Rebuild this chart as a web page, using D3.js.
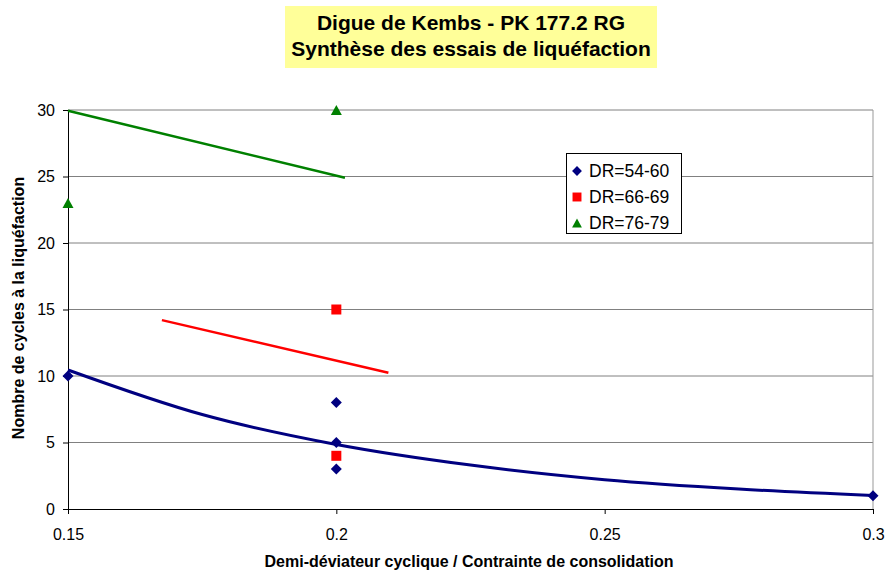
<!DOCTYPE html>
<html>
<head>
<meta charset="utf-8">
<script src="https://cdn.jsdelivr.net/npm/d3@7/dist/d3.min.js"></script>
<style>
  body { margin: 0; background: #fff; }
  #chart { width: 888px; height: 575px; }
  text { font-family: Arial, "Liberation Sans", sans-serif; fill: #000; }
</style>
</head>
<body>
<div id="chart"></div>
<script>
//Données
const titleLines = ['Digue de Kembs - PK 177.2 RG', 'Synthèse des essais de liquéfaction'];
const xLabel = 'Demi-déviateur cyclique / Contrainte de consolidation';
const yLabel = 'Nombre de cycles à la liquéfaction';

const xTicks = [0.15, 0.2, 0.25, 0.3];
const yTicks = [0, 5, 10, 15, 20, 25, 30];

const seriesNames = ['DR=54-60', 'DR=66-69', 'DR=76-79'];
const seriesColors = ['#000080', '#FF0000', '#008000'];

//Points mesurés
const dr54X = [0.15, 0.2, 0.2, 0.2, 0.3];
const dr54Y = [10, 8, 5, 3, 1];
const dr66X = [0.2, 0.2];
const dr66Y = [15, 4];
const dr76X = [0.15, 0.2];
const dr76Y = [23, 30];

//Courbes de tendance
const trend54X = [0.15, 0.175, 0.2, 0.225, 0.25, 0.275, 0.3];
const trend54Y = [10.45, 7.1, 4.85, 3.3, 2.2, 1.5, 1.02];
const trend66X = [0.1675, 0.2097];
const trend66Y = [14.2, 10.25];
const trend76X = [0.15, 0.2016];
const trend76Y = [29.95, 24.9];

//Dimensions
let margin = {top: 110, right: 15, bottom: 66, left: 68},
    width = 888 - margin.left - margin.right,
    height = 575 - margin.top - margin.bottom;

let svg = d3.select('#chart')
    .append('svg')
        .attr('width', 888)
        .attr('height', 575);

//Titre
svg.append('rect')
    .attr('x', 285).attr('y', 6)
    .attr('width', 372).attr('height', 62)
    .attr('fill', '#FFFF99');

svg.append('g')
    .selectAll('text')
    .data(titleLines)
    .enter()
    .append('text')
    .attr('x', 471)
    .attr('y', function(d, i) { return 30 + i * 26; })
    .attr('text-anchor', 'middle')
    .style('font-size', '21px')
    .style('font-weight', 'bold')
    .text(function(d) { return d; });

let g = svg.append('g')
    .attr('transform', 'translate(' + margin.left + ',' + margin.top + ')');

let x = d3.scaleLinear()
    .domain([0.15, 0.3])
    .range([0, width]);

let y = d3.scaleLinear()
    .domain([0, 30])
    .range([height, 0]);

//Grille
g.append('g')
    .selectAll('line')
    .data(yTicks.filter(function(d) { return d > 0; }))
    .enter()
    .append('line')
    .attr('x1', 0).attr('x2', width)
    .attr('y1', function(d) { return y(d); })
    .attr('y2', function(d) { return y(d); })
    .attr('stroke', '#808080')
    .attr('stroke-width', 1);

g.append('line')
    .attr('x1', width).attr('x2', width)
    .attr('y1', 0).attr('y2', height)
    .attr('stroke', '#999')
    .attr('stroke-width', 1);

//Axes
let xAxis = g.append('g')
    .attr('transform', 'translate(0,' + height + ')')
    .call(d3.axisBottom(x).tickValues(xTicks).tickSize(5).tickSizeOuter(0).tickPadding(15)
        .tickFormat(function(d) { return String(d); }));

let yAxis = g.append('g')
    .call(d3.axisLeft(y).tickValues(yTicks).tickSize(5).tickSizeOuter(0).tickPadding(8));

[xAxis, yAxis].forEach(function(a) {
    a.selectAll('path, line').attr('stroke', '#000');
    a.selectAll('text').style('font-size', '16px').style('font-family', 'Arial, "Liberation Sans", sans-serif');
});

//Titres des axes
svg.append('text')
    .attr('x', 469)
    .attr('y', 567)
    .attr('text-anchor', 'middle')
    .style('font-size', '16px')
    .style('font-weight', 'bold')
    .text(xLabel);

svg.append('text')
    .attr('transform', 'translate(24,308) rotate(-90)')
    .attr('text-anchor', 'middle')
    .style('font-size', '16px')
    .style('font-weight', 'bold')
    .text(yLabel);

//Symboles
const diamond = { draw: function(ctx, size) { let r = Math.sqrt(size) / 2; ctx.moveTo(0, -r); ctx.lineTo(r, 0); ctx.lineTo(0, r); ctx.lineTo(-r, 0); ctx.closePath(); } };
const square = { draw: function(ctx, size) { let r = Math.sqrt(size) / 2; ctx.rect(-r, -r, 2 * r, 2 * r); } };
const triangle = { draw: function(ctx, size) { let r = Math.sqrt(size) / 2; ctx.moveTo(0, -r); ctx.lineTo(r * 1.1, r); ctx.lineTo(-r * 1.1, r); ctx.closePath(); } };
const shapes = [diamond, square, triangle];
const shapeSizes = [121, 100, 100];

//Courbes de tendance
let line = d3.line()
    .x(function(d) { return x(d[0]); })
    .y(function(d) { return y(d[1]); });

let trends = [
    {pts: d3.zip(trend54X, trend54Y), color: seriesColors[0], w: 3, curve: d3.curveMonotoneX},
    {pts: d3.zip(trend66X, trend66Y), color: seriesColors[1], w: 2.5, curve: d3.curveLinear},
    {pts: d3.zip(trend76X, trend76Y), color: seriesColors[2], w: 2.5, curve: d3.curveLinear}
];

g.append('g')
    .selectAll('path')
    .data(trends)
    .enter()
    .append('path')
    .attr('fill', 'none')
    .attr('stroke', function(d) { return d.color; })
    .attr('stroke-width', function(d) { return d.w; })
    .attr('d', function(d) { return line.curve(d.curve)(d.pts); });

//Points
let points = [d3.zip(dr54X, dr54Y), d3.zip(dr66X, dr66Y), d3.zip(dr76X, dr76Y)];

points.forEach(function(pts, i) {
    g.append('g')
        .selectAll('path')
        .data(pts)
        .enter()
        .append('path')
        .attr('transform', function(d) { return 'translate(' + x(d[0]) + ',' + y(d[1]) + ')'; })
        .attr('d', d3.symbol().type(shapes[i]).size(shapeSizes[i]))
        .attr('fill', seriesColors[i]);
});

//Légende
let legend = svg.append('g').attr('transform', 'translate(566,153)');

legend.append('rect')
    .attr('x', 0.5).attr('y', 0.5)
    .attr('width', 115).attr('height', 80)
    .attr('fill', '#fff')
    .attr('stroke', '#000');

let items = legend.selectAll('.item')
    .data(seriesNames)
    .enter()
    .append('g')
    .attr('transform', function(d, i) { return 'translate(0,' + (18 + i * 26) + ')'; });

items.append('path')
    .attr('transform', 'translate(11,0)')
    .attr('d', function(d, i) { return d3.symbol().type(shapes[i]).size(shapeSizes[i] * 0.8)(); })
    .attr('fill', function(d, i) { return seriesColors[i]; });

items.append('text')
    .attr('x', 23)
    .attr('dy', '0.36em')
    .style('font-size', '17.5px')
    .text(function(d) { return d; });
</script>
</body>
</html>
